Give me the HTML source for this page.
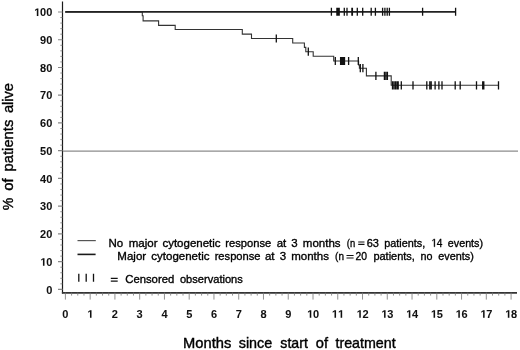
<!DOCTYPE html>
<html><head><meta charset="utf-8"><style>
html,body{margin:0;padding:0;background:#fff;width:520px;height:350px;overflow:hidden}
svg{display:block;will-change:transform}
text{font-family:"Liberation Sans",sans-serif}
</style></head><body>
<svg width="520" height="350" viewBox="0 0 520 350" font-family="Liberation Sans, sans-serif"><path d="M62.5 1.5V293.4" stroke="#1a1a1a" stroke-width="1.2" fill="none"/>
<path d="M61.9 292.8H517" stroke="#333" stroke-width="1.7" fill="none"/>
<path d="M60.3 283.85H62.5M60.3 278.30H62.5M60.3 272.76H62.5M60.3 267.21H62.5M60.3 256.11H62.5M60.3 250.56H62.5M60.3 245.02H62.5M60.3 239.47H62.5M60.3 228.37H62.5M60.3 222.82H62.5M60.3 217.28H62.5M60.3 211.73H62.5M60.3 200.63H62.5M60.3 195.08H62.5M60.3 189.54H62.5M60.3 183.99H62.5M60.3 172.89H62.5M60.3 167.34H62.5M60.3 161.80H62.5M60.3 156.25H62.5M60.3 145.15H62.5M60.3 139.60H62.5M60.3 134.06H62.5M60.3 128.51H62.5M60.3 117.41H62.5M60.3 111.86H62.5M60.3 106.32H62.5M60.3 100.77H62.5M60.3 89.67H62.5M60.3 84.12H62.5M60.3 78.58H62.5M60.3 73.03H62.5M60.3 61.93H62.5M60.3 56.38H62.5M60.3 50.84H62.5M60.3 45.29H62.5M60.3 34.19H62.5M60.3 28.64H62.5M60.3 23.10H62.5M60.3 17.55H62.5" stroke="#777" stroke-width="0.8" fill="none"/>
<path d="M58 289.40H62.5M58 261.66H62.5M58 233.92H62.5M58 206.18H62.5M58 178.44H62.5M58 150.70H62.5M58 122.96H62.5M58 95.22H62.5M58 67.48H62.5M58 39.74H62.5M58 12.00H62.5" stroke="#888" stroke-width="1.2" fill="none"/>
<path d="M65.40 292.6V299.6M71.59 292.6V295.6M77.78 292.6V295.6M83.97 292.6V295.6M90.16 292.6V299.6M96.35 292.6V295.6M102.54 292.6V295.6M108.73 292.6V295.6M114.92 292.6V299.6M121.11 292.6V295.6M127.30 292.6V295.6M133.49 292.6V295.6M139.68 292.6V299.6M145.87 292.6V295.6M152.06 292.6V295.6M158.25 292.6V295.6M164.44 292.6V299.6M170.63 292.6V295.6M176.82 292.6V295.6M183.01 292.6V295.6M189.20 292.6V299.6M195.39 292.6V295.6M201.58 292.6V295.6M207.77 292.6V295.6M213.96 292.6V299.6M220.15 292.6V295.6M226.34 292.6V295.6M232.53 292.6V295.6M238.72 292.6V299.6M244.91 292.6V295.6M251.10 292.6V295.6M257.29 292.6V295.6M263.48 292.6V299.6M269.67 292.6V295.6M275.86 292.6V295.6M282.05 292.6V295.6M288.24 292.6V299.6M294.43 292.6V295.6M300.62 292.6V295.6M306.81 292.6V295.6M313.00 292.6V299.6M319.19 292.6V295.6M325.38 292.6V295.6M331.57 292.6V295.6M337.76 292.6V299.6M343.95 292.6V295.6M350.14 292.6V295.6M356.33 292.6V295.6M362.52 292.6V299.6M368.71 292.6V295.6M374.90 292.6V295.6M381.09 292.6V295.6M387.28 292.6V299.6M393.47 292.6V295.6M399.66 292.6V295.6M405.85 292.6V295.6M412.04 292.6V299.6M418.23 292.6V295.6M424.42 292.6V295.6M430.61 292.6V295.6M436.80 292.6V299.6M442.99 292.6V295.6M449.18 292.6V295.6M455.37 292.6V295.6M461.56 292.6V299.6M467.75 292.6V295.6M473.94 292.6V295.6M480.13 292.6V295.6M486.32 292.6V299.6M492.51 292.6V295.6M498.70 292.6V295.6M504.89 292.6V295.6M511.08 292.6V299.6" stroke="#777" stroke-width="0.8" fill="none"/>
<path d="M63 151.2H518" stroke="#8c8c8c" stroke-width="1.2" fill="none"/>
<g font-size="11" font-weight="bold" fill="#111" stroke="#111" stroke-width="0.05"><text x="52.3" y="293.50" text-anchor="end">0</text><text x="52.3" y="265.76" text-anchor="end"> 0</text><text x="52.3" y="238.02" text-anchor="end">20</text><text x="52.3" y="210.28" text-anchor="end">30</text><text x="52.3" y="182.54" text-anchor="end">40</text><text x="52.3" y="154.80" text-anchor="end">50</text><text x="52.3" y="127.06" text-anchor="end">60</text><text x="52.3" y="99.32" text-anchor="end">70</text><text x="52.3" y="71.58" text-anchor="end">80</text><text x="52.3" y="43.84" text-anchor="end">90</text><text x="52.3" y="16.10" text-anchor="end"> 00</text><text x="65.40" y="317.80" text-anchor="middle">0</text><text x="90.16" y="317.80" text-anchor="middle"> </text><text x="114.92" y="317.80" text-anchor="middle">2</text><text x="139.68" y="317.80" text-anchor="middle">3</text><text x="164.44" y="317.80" text-anchor="middle">4</text><text x="189.20" y="317.80" text-anchor="middle">5</text><text x="213.96" y="317.80" text-anchor="middle">6</text><text x="238.72" y="317.80" text-anchor="middle">7</text><text x="263.48" y="317.80" text-anchor="middle">8</text><text x="288.24" y="317.80" text-anchor="middle">9</text><text x="313.00" y="317.80" text-anchor="middle"> 0</text><text x="337.76" y="317.80" text-anchor="middle">  </text><text x="362.52" y="317.80" text-anchor="middle"> 2</text><text x="387.28" y="317.80" text-anchor="middle"> 3</text><text x="412.04" y="317.80" text-anchor="middle"> 4</text><text x="436.80" y="317.80" text-anchor="middle"> 5</text><text x="461.56" y="317.80" text-anchor="middle"> 6</text><text x="486.32" y="317.80" text-anchor="middle"> 7</text><text x="511.08" y="317.80" text-anchor="middle"> 8</text><path transform="translate(40.39 265.76) scale(0.00537 -0.00537)" stroke-width="9.3" d="M478 0V1170L140 959V1180L493 1409H759V0Z"/><path transform="translate(34.27 16.10) scale(0.00537 -0.00537)" stroke-width="9.3" d="M478 0V1170L140 959V1180L493 1409H759V0Z"/><path transform="translate(87.42 317.80) scale(0.00537 -0.00537)" stroke-width="9.3" d="M478 0V1170L140 959V1180L493 1409H759V0Z"/><path transform="translate(307.20 317.80) scale(0.00537 -0.00537)" stroke-width="9.3" d="M478 0V1170L140 959V1180L493 1409H759V0Z"/><path transform="translate(331.96 317.80) scale(0.00537 -0.00537)" stroke-width="9.3" d="M478 0V1170L140 959V1180L493 1409H759V0Z"/><path transform="translate(338.08 317.80) scale(0.00537 -0.00537)" stroke-width="9.3" d="M478 0V1170L140 959V1180L493 1409H759V0Z"/><path transform="translate(356.72 317.80) scale(0.00537 -0.00537)" stroke-width="9.3" d="M478 0V1170L140 959V1180L493 1409H759V0Z"/><path transform="translate(381.48 317.80) scale(0.00537 -0.00537)" stroke-width="9.3" d="M478 0V1170L140 959V1180L493 1409H759V0Z"/><path transform="translate(406.24 317.80) scale(0.00537 -0.00537)" stroke-width="9.3" d="M478 0V1170L140 959V1180L493 1409H759V0Z"/><path transform="translate(431.00 317.80) scale(0.00537 -0.00537)" stroke-width="9.3" d="M478 0V1170L140 959V1180L493 1409H759V0Z"/><path transform="translate(455.76 317.80) scale(0.00537 -0.00537)" stroke-width="9.3" d="M478 0V1170L140 959V1180L493 1409H759V0Z"/><path transform="translate(480.52 317.80) scale(0.00537 -0.00537)" stroke-width="9.3" d="M478 0V1170L140 959V1180L493 1409H759V0Z"/><path transform="translate(505.28 317.80) scale(0.00537 -0.00537)" stroke-width="9.3" d="M478 0V1170L140 959V1180L493 1409H759V0Z"/></g>
<g fill="#000" stroke="#000" stroke-width="0.4"><text x="183.05" y="347.60" font-size="15.0" textLength="48.19" lengthAdjust="spacingAndGlyphs">Months</text><text x="238.75" y="347.60" font-size="15.0" textLength="33.49" lengthAdjust="spacingAndGlyphs">since</text><text x="280.36" y="347.60" font-size="15.0" textLength="27.45" lengthAdjust="spacingAndGlyphs">start</text><text x="315.74" y="347.60" font-size="15.0" textLength="12.24" lengthAdjust="spacingAndGlyphs">of</text><text x="335.44" y="347.60" font-size="15.0" textLength="60.27" lengthAdjust="spacingAndGlyphs">treatment</text></g>
<g transform="translate(13.0 210) rotate(-90)" fill="#000" stroke="#000" stroke-width="0.4"><text x="-0.20" y="0.00" font-size="15.4" textLength="12.50" lengthAdjust="spacingAndGlyphs">%</text><text x="19.18" y="0.00" font-size="15.4" textLength="12.40" lengthAdjust="spacingAndGlyphs">of</text><text x="38.55" y="0.00" font-size="15.4" textLength="51.79" lengthAdjust="spacingAndGlyphs">patients</text><text x="96.88" y="0.00" font-size="15.4" textLength="29.97" lengthAdjust="spacingAndGlyphs">alive</text></g>
<path d="M65 12.0H142.3V15.7H143.1V20.9H158.6V25.4H175.2V29.5H242.3V34.1H251.5V38.5H292.7V43.0H304.4V47.4H305.8V51.7H313.2V56.2H333.7V61.0H358.6V65.0H359.4V68.2H366.4V75.9H391.2V85.3H498.5" stroke="#333" stroke-width="1.1" fill="none"/>
<path d="M276.3 34.4V42.6M308.3 47.6V55.8M335.3 56.9V65.1M340.6 56.9V65.1M341.9 56.9V65.1M343.2 56.9V65.1M344.5 56.9V65.1M348.6 56.9V65.1M358.3 56.9V65.1M360.3 64.1V72.3M362.9 64.1V72.3M375.9 71.8V80.0M384.4 71.8V80.0M385.9 71.8V80.0M387.4 71.8V80.0M392.5 81.2V89.4M394.0 81.2V89.4M395.5 81.2V89.4M397.0 81.2V89.4M398.2 81.2V89.4M401.3 81.2V89.4M413.0 81.2V89.4M426.8 81.2V89.4M429.8 81.2V89.4M431.2 81.2V89.4M435.1 81.2V89.4M438.9 81.2V89.4M442.0 81.2V89.4M455.2 81.2V89.4M460.2 81.2V89.4M476.5 81.2V89.4M482.7 81.2V89.4M483.8 81.2V89.4M498.5 81.2V89.4" stroke="#111" stroke-width="1.3" fill="none"/>
<path d="M65.3 11.9H455.6" stroke="#222" stroke-width="1.8" fill="none"/>
<path d="M331.4 7.8V15.8M336.9 7.8V15.8M338.0 7.8V15.8M339.2 7.8V15.8M344.3 7.8V15.8M347.0 7.8V15.8M351.9 7.8V15.8M352.4 7.8V15.8M357.3 7.8V15.8M362.7 7.8V15.8M371.2 7.8V15.8M375.4 7.8V15.8M382.6 7.8V15.8M384.9 7.8V15.8M387.2 7.8V15.8M389.4 7.8V15.8M422.6 7.8V15.8M455.6 7.8V15.8" stroke="#111" stroke-width="1.3" fill="none"/>
<path d="M77.5 240.6H95.8" stroke="#555" stroke-width="1.2" fill="none"/>
<path d="M77.5 254.4H95.6" stroke="#1a1a1a" stroke-width="1.6" fill="none"/>
<g fill="#000" stroke="#000" stroke-width="0.35"><text x="108.56" y="246.80" font-size="11.5">No</text><text x="128.74" y="246.80" font-size="11.5">major</text><text x="162.41" y="246.80" font-size="11.5">cytogenetic</text><text x="225.36" y="246.80" font-size="11.5" textLength="45.94" lengthAdjust="spacingAndGlyphs">response</text><text x="276.71" y="246.80" font-size="11.5">at</text><text x="291.26" y="246.80" font-size="11.5">3</text><text x="302.84" y="246.80" font-size="11.5">months</text><text x="346.82" y="246.80" font-size="11.5" textLength="8.39" lengthAdjust="spacingAndGlyphs">(n</text><text x="366.65" y="246.80" font-size="11.5" textLength="12.23" lengthAdjust="spacingAndGlyphs">63</text><text x="384.20" y="246.80" font-size="11.5" textLength="40.97" lengthAdjust="spacingAndGlyphs">patients,</text><text x="431.22" y="246.8" font-size="11.5" textLength="11.27" lengthAdjust="spacingAndGlyphs"> 4</text><path transform="translate(431.42 246.8) scale(0.00495 -0.00562)" stroke-width="62.3" d="M515 0V1237L197 1010V1180L530 1409H696V0Z"/><text x="447.84" y="246.80" font-size="11.5" textLength="35.22" lengthAdjust="spacingAndGlyphs">events)</text><text x="117.36" y="260.40" font-size="11.5">Major</text><text x="151.31" y="260.40" font-size="11.5">cytogenetic</text><text x="214.66" y="260.40" font-size="11.5" textLength="45.84" lengthAdjust="spacingAndGlyphs">response</text><text x="264.91" y="260.40" font-size="11.5">at</text><text x="279.76" y="260.40" font-size="11.5">3</text><text x="291.24" y="260.40" font-size="11.5">months</text><text x="335.08" y="260.40" font-size="11.5" textLength="8.86" lengthAdjust="spacingAndGlyphs">(n</text><text x="355.48" y="260.40" font-size="11.5" textLength="11.52" lengthAdjust="spacingAndGlyphs">20</text><text x="373.39" y="260.40" font-size="11.5" textLength="41.49" lengthAdjust="spacingAndGlyphs">patients,</text><text x="420.59" y="260.40" font-size="11.5" textLength="11.96" lengthAdjust="spacingAndGlyphs">no</text><text x="438.34" y="260.40" font-size="11.5" textLength="35.53" lengthAdjust="spacingAndGlyphs">events)</text><text x="125.23" y="283.40" font-size="11.5" textLength="49.00" lengthAdjust="spacingAndGlyphs">Censored</text><text x="179.94" y="283.40" font-size="11.5" textLength="62.87" lengthAdjust="spacingAndGlyphs">observations</text></g>
<path d="M78.8 273.8V281.8M86.2 273.8V281.8M93.5 273.8V281.8" stroke="#111" stroke-width="1.3" fill="none"/>
<path d="M110.8 278.4H117.7M110.8 281.2H117.7M358.2 242.0H364.5M358.2 244.4H364.5M346.5 255.5H353.6M346.5 258.0H353.6" stroke="#111" stroke-width="1.2" fill="none"/></svg>
</body></html>
